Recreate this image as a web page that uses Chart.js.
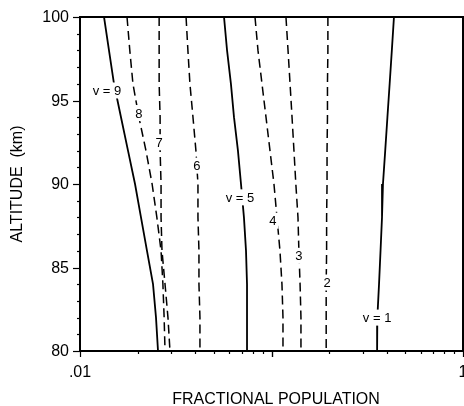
<!DOCTYPE html>
<html>
<head>
<meta charset="utf-8">
<script src="https://cdn.jsdelivr.net/npm/chart.js@4"></script>
<style>
  body { margin: 0; background: #fff; }
  canvas { display: block; }
</style>
</head>
<body>
<canvas id="myChart" width="464" height="406"></canvas>
<script>
// altitude grid (km) shared by all curves
let altitudes = [100, 98, 96, 94, 92, 90, 88, 86, 84, 82, 80];

// fractional population of each vibrational level
let v1 = [0.436, 0.425, 0.414, 0.403, 0.3925, 0.382, 0.3776, 0.371, 0.3643, 0.357, 0.356];
let v2 = [0.197, 0.197, 0.196, 0.196, 0.195, 0.195, 0.194, 0.194, 0.193, 0.193, 0.193];
let v3 = [0.119, 0.122, 0.125, 0.128, 0.131, 0.134, 0.1375, 0.139, 0.141, 0.1425, 0.1425];
let v4 = [0.082, 0.085, 0.0892, 0.0936, 0.0982, 0.103, 0.1068, 0.1107, 0.1134, 0.1148, 0.1148];
let v5 = [0.0565, 0.0586, 0.0614, 0.0637, 0.0668, 0.0693, 0.0718, 0.0736, 0.0745, 0.0745, 0.0745];
let v6 = [0.0358, 0.0366, 0.0375, 0.0389, 0.0403, 0.0413, 0.0413, 0.0418, 0.0418, 0.0423, 0.0423];
let v7 = [0.0259, 0.0259, 0.0259, 0.0262, 0.0262, 0.0265, 0.0265, 0.0268, 0.0278, 0.0288, 0.0295];
let v8 = [0.0176, 0.0182, 0.0189, 0.0203, 0.0221, 0.0238, 0.0252, 0.0265, 0.0271, 0.0275, 0.0278];
let v9 = [0.01335, 0.01417, 0.01505, 0.01637, 0.01781, 0.01938, 0.02082, 0.02238, 0.02406, 0.02494, 0.02555];

let series = [v1, v2, v3, v4, v5, v6, v7, v8, v9];
let dashed = [false, true, true, true, false, true, true, true, false];

// curve labels and where they sit (population, altitude)
let curveLabels = ['v = 1', '2', '3', '4', 'v = 5', '6', '7', '8', 'v = 9'];
let labelPop = [0.356, 0.195, 0.139, 0.1018, 0.0685, 0.0408, 0.0259, 0.0203, 0.01383];
let labelAlt = [82.0, 84.1, 85.7, 87.8, 89.2, 91.1, 92.5, 94.25, 95.6];

// axis ticks
let yTicks = [80, 85, 90, 95, 100];
let yTickLabels = ['80', '85', '90', '95', '100'];
let xTicks = [0.01, 1];
let xTickLabels = ['.01', '1'];
let xTitle = 'FRACTIONAL POPULATION';
let yTitle = 'ALTITUDE  (km)';

let datasets = [];
for (let i = 0; i < series.length; i++) {
    let pts = [];
    for (let j = 0; j < altitudes.length; j++) {
        pts.push({x: series[i][j], y: altitudes[j]});
    }
    datasets.push({
        data: pts,
        showLine: true,
        pointRadius: 0,
        borderColor: '#000',
        borderWidth: dashed[i] ? 1.5 : 1.8,
        borderDash: dashed[i] ? [9, 5] : [],
        tension: 0
    });
}

let FONT = '"Liberation Sans", Arial, Helvetica, sans-serif';

let frame = {
    id: 'frame',
    afterDatasetsDraw(chart) {
        let ctx = chart.ctx;
        let a = chart.chartArea;
        let x = chart.scales.x;
        let y = chart.scales.y;
        ctx.save();

        // curve labels (white box makes the gap in the line)
        ctx.font = '13px ' + FONT;
        ctx.textAlign = 'center';
        ctx.textBaseline = 'middle';
        for (let i = 0; i < curveLabels.length; i++) {
            let px = x.getPixelForValue(labelPop[i]);
            let py = y.getPixelForValue(labelAlt[i]);
            let w = ctx.measureText(curveLabels[i]).width;
            ctx.fillStyle = '#fff';
            ctx.fillRect(px - w / 2 - 2, py - 8, w + 4, 16);
            ctx.fillStyle = '#000';
            ctx.fillText(curveLabels[i], px, py + 1);
        }

        // frame
        ctx.strokeStyle = '#000';
        ctx.lineWidth = 2;
        ctx.strokeRect(a.left, a.top, a.right - a.left, a.bottom - a.top);

        // y ticks (minor every km, major every 5)
        ctx.lineWidth = 1.2;
        for (let v = 80; v <= 100; v++) {
            let py = Math.round(y.getPixelForValue(v)) + 0.5;
            let len = (v % 5 == 0) ? 7 : 3;
            ctx.beginPath();
            ctx.moveTo(a.left - len, py);
            ctx.lineTo(a.left, py);
            ctx.stroke();
        }
        // x ticks (log minor ticks)
        for (let dec = 0.01; dec < 1; dec *= 10) {
            for (let m = 1; m <= 10; m++) {
                let v = dec * m;
                let px = Math.round(x.getPixelForValue(v)) + 0.5;
                let len = (m == 1 || m == 10) ? 6 : 3;
                ctx.beginPath();
                ctx.moveTo(px, a.bottom);
                ctx.lineTo(px, a.bottom + len);
                ctx.stroke();
            }
        }

        // tick labels
        ctx.fillStyle = '#000';
        ctx.font = '16px ' + FONT;
        ctx.textAlign = 'right';
        ctx.textBaseline = 'middle';
        for (let i = 0; i < yTicks.length; i++) {
            ctx.fillText(yTickLabels[i], a.left - 11, y.getPixelForValue(yTicks[i]) + 1);
        }
        ctx.textAlign = 'center';
        ctx.textBaseline = 'top';
        for (let i = 0; i < xTicks.length; i++) {
            ctx.fillText(xTickLabels[i], x.getPixelForValue(xTicks[i]), a.bottom + 14);
        }

        // axis titles
        ctx.font = '16px ' + FONT;
        ctx.textBaseline = 'middle';
        ctx.fillText(xTitle, 276, 400);
        ctx.translate(18, (a.top + a.bottom) / 2);
        ctx.rotate(-Math.PI / 2);
        ctx.fillText(yTitle, 0, 0);
        ctx.restore();
    }
};

new Chart('myChart', {
    type: 'scatter',
    data: { datasets: datasets },
    options: {
        responsive: false,
        animation: false,
        layout: { padding: { left: 80, right: 1, top: 17, bottom: 55 } },
        scales: {
            x: { type: 'logarithmic', min: 0.01, max: 1, display: false },
            y: { type: 'linear', min: 80, max: 100, display: false }
        },
        plugins: { legend: { display: false }, tooltip: { enabled: false } }
    },
    plugins: [frame]
});
</script>
</body>
</html>
